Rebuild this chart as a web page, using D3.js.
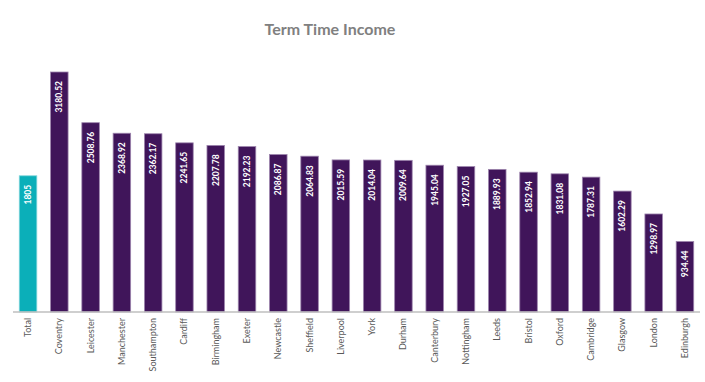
<!DOCTYPE html>
<html><head><meta charset="utf-8">
<script src="https://cdn.jsdelivr.net/npm/d3@7"></script>
<style>body{margin:0;background:#fff}</style>
</head><body>
<svg id="c" width="705" height="382"></svg>
<script>
const categories = ["Total","Coventry","Leicester","Manchester","Southampton","Cardiff","Birmingham","Exeter","Newcastle","Sheffield","Liverpool","York","Durham","Canterbury","Nottingham","Leeds","Bristol","Oxford","Cambridge","Glasgow","London","Edinburgh"];
const values = [1805,3180.52,2508.76,2368.92,2362.17,2241.65,2207.78,2192.23,2086.87,2064.83,2015.59,2014.04,2009.64,1945.04,1927.05,1889.93,1852.94,1831.08,1787.31,1602.29,1298.97,934.44];
const labels = ["1805","3180.52","2508.76","2368.92","2362.17","2241.65","2207.78","2192.23","2086.87","2064.83","2015.59","2014.04","2009.64","1945.04","1927.05","1889.93","1852.94","1831.08","1787.31","1602.29","1298.97","934.44"];
const title = "Term Time Income";

const svg = d3.select("#c");
const font = "Lato, 'Open Sans', sans-serif";
const x = d3.scaleBand().domain(categories).range([12.4, 700.6]).paddingInner(0.44).paddingOuter(0.22);
const y = d3.scaleLinear().domain([0, 3180.52]).range([312, 72]);

svg.append("text").attr("x", 330).attr("y", 35).attr("text-anchor","middle")
  .attr("font-family", font).attr("font-weight","bold").attr("font-size", 16)
  .attr("fill","#808080").text(title);

const data = categories.map((c,i)=>({c, v: values[i], l: labels[i], i}));

svg.append("g").selectAll("rect").data(data).join("rect")
  .attr("x", d=>x(d.c)).attr("width", x.bandwidth())
  .attr("y", d=>y(d.v)).attr("height", d=>y(0)-y(d.v))
  .attr("fill", d=>d.i===0 ? "#0bafb9" : "#40155a")
  .attr("stroke", d=>d.i===0 ? "#7fd4da" : "#9d85ad").attr("stroke-width", 0.8);

svg.append("g").selectAll("text").data(data).join("text")
  .attr("transform", d=>`translate(${x(d.c)+x.bandwidth()/2+3},${y(d.v)+9}) rotate(-90)`)
  .attr("text-anchor","end").attr("font-family", font).attr("font-weight","bold")
  .attr("font-size", 8.5).attr("fill","#ffffff").text(d=>d.l);

const axis = d3.axisBottom(x).tickSize(0).tickSizeOuter(0);
const g = svg.append("g").attr("transform","translate(0,312)").call(axis);
g.select(".domain").attr("stroke","#bfbfbf").attr("stroke-width",1.5).attr("d","M13,0H700");
g.selectAll(".tick text")
  .attr("font-family", font).attr("font-size", 9).attr("fill","#595959")
  .attr("text-anchor","end").attr("dy", null).attr("y", 0).attr("x", 0)
  .attr("transform","translate(3,6) rotate(-90)");
</script>
</body></html>
